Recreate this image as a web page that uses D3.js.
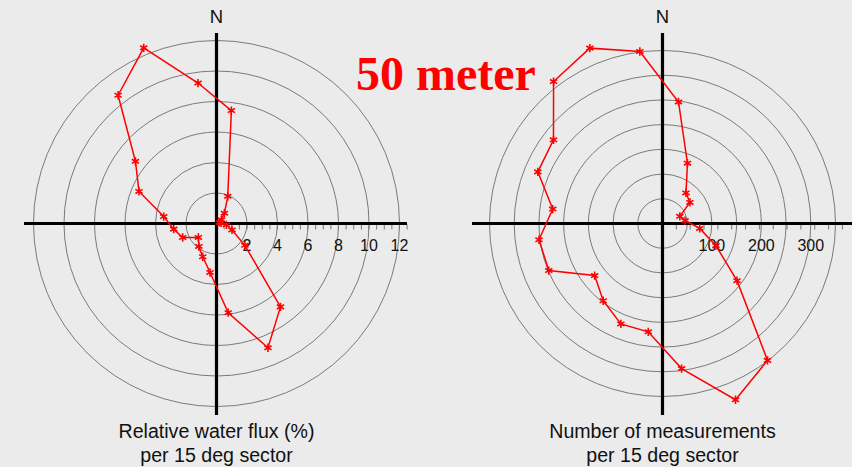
<!DOCTYPE html>
<html>
<head>
<meta charset="utf-8">
<script src="https://cdn.jsdelivr.net/npm/d3@7"></script>
<style>
  html, body { margin: 0; padding: 0; background: #ebebeb; }
  svg { display: block; }
</style>
</head>
<body>
<svg id="chart" width="852" height="467"></svg>
<script>
// Sector centre directions (degrees, clockwise from North)
const sectorAngles = [7.5, 22.5, 37.5, 52.5, 67.5, 82.5, 97.5, 112.5, 127.5, 142.5, 157.5, 172.5,
                      187.5, 202.5, 217.5, 232.5, 247.5, 262.5, 277.5, 292.5, 307.5, 322.5, 337.5, 352.5];
// Left panel: relative water flux (%) per sector
const fluxValues = [7.47, 1.93, 0.85, 0.4, 0.2, 0.3, 0.65, 1.1, 2.35, 6.89, 8.82, 5.9,
                    3.24, 2.36, 1.9, 1.5, 2.4, 2.83, 3.49, 5.5, 6.7, 10.6, 12.47, 9.29];
// Right panel: number of measurements per sector
const countValues = [248, 132, 78, 70, 38, 46, 76, 117, 190, 349, 386, 296,
                     221, 220, 197, 173, 249, 252, 224, 273, 278, 362, 384, 351];
// Rings and tick labels
const fluxRings = [2, 4, 6, 8, 10, 12];
const fluxTickLabels = ["2", "4", "6", "8", "10", "12"];
const countRings = [50, 100, 150, 200, 250, 300, 350];
const countTickLabels = ["100", "200", "300"];
const countTickLabelValues = [100, 200, 300];
const titleText = "50 meter";
const fluxCaption = ["Relative water flux (%)", "per 15 deg sector"];
const countCaption = ["Number of measurements", "per 15 deg sector"];

const svg = d3.select("#chart");
const rad = Math.PI / 180;

function panel(opts) {
  const g = svg.append("g").attr("transform", `translate(${opts.cx},${opts.cy})`);
  const r = d3.scaleLinear().domain([0, opts.maxVal]).range([0, opts.maxPx]);

  g.selectAll("circle.ring").data(opts.rings).join("circle")
    .attr("class", "ring")
    .attr("r", d => r(d))
    .attr("fill", "none")
    .attr("stroke", "#7a7a7a")
    .attr("stroke-width", 1);

  const ticks = d3.range(opts.tickStep, opts.tickEnd + 1e-9, opts.tickStep);
  g.selectAll("line.tick").data(ticks).join("line")
    .attr("x1", d => r(d)).attr("x2", d => r(d))
    .attr("y1", 1).attr("y2", 6)
    .attr("stroke", "#777").attr("stroke-width", 1);

  g.append("line").attr("x1", opts.xLeft - opts.cx).attr("x2", opts.xRight - opts.cx)
    .attr("y1", 0).attr("y2", 0).attr("stroke", "#000").attr("stroke-width", 3.2);
  g.append("line").attr("x1", 0).attr("x2", 0)
    .attr("y1", 33 - opts.cy).attr("y2", 415 - opts.cy)
    .attr("stroke", "#000").attr("stroke-width", 3.2);

  g.selectAll("text.tl").data(opts.labelVals).join("text")
    .attr("class", "tl")
    .attr("x", d => r(d)).attr("y", 27)
    .attr("text-anchor", "middle")
    .attr("font-family", "Liberation Sans, Arial, sans-serif")
    .attr("font-size", 16).attr("fill", "#111")
    .text((d, i) => opts.labels[i]);

  g.append("text").attr("x", 0).attr("y", 23 - opts.cy)
    .attr("text-anchor", "middle")
    .attr("font-family", "Liberation Sans, Arial, sans-serif")
    .attr("font-size", 18.5).attr("fill", "#111").text("N");

  const data = sectorAngles.map((a, i) => ({ a: a * rad, v: opts.values[i] }));
  const line = d3.lineRadial().angle(d => d.a).radius(d => r(d.v)).curve(d3.curveLinearClosed);
  g.append("path").attr("d", line(data))
    .attr("fill", "none").attr("stroke", "#ff0000").attr("stroke-width", 1.5);

  const sym = d3.symbol(d3.symbolAsterisk).size(48);
  g.selectAll("path.mk").data(data).join("path")
    .attr("class", "mk")
    .attr("d", sym)
    .attr("transform", d => {
      const [x, y] = d3.pointRadial(d.a, r(d.v));
      return `translate(${x},${y})`;
    })
    .attr("fill", "none").attr("stroke", "#ff0000").attr("stroke-width", 1.6);

  const cap = svg.append("text")
    .attr("text-anchor", "middle")
    .attr("font-family", "Liberation Sans, Arial, sans-serif")
    .attr("font-size", 19.6).attr("fill", "#111");
  opts.caption.forEach((t, i) => {
    cap.append("tspan").attr("x", opts.cx).attr("y", 438 + i * 24).text(t);
  });
}

panel({
  cx: 216.5, cy: 223.5, maxVal: 12, maxPx: 183,
  rings: fluxRings, values: fluxValues,
  tickStep: 0.5, tickEnd: 12.5,
  labelVals: fluxRings, labels: fluxTickLabels,
  xLeft: 24, xRight: 407, caption: fluxCaption
});

panel({
  cx: 662.5, cy: 223.5, maxVal: 350, maxPx: 173,
  rings: countRings, values: countValues,
  tickStep: 28, tickEnd: 380,
  labelVals: countTickLabelValues, labels: countTickLabels,
  xLeft: 472, xRight: 852, caption: countCaption
});

svg.append("text")
  .attr("x", 356).attr("y", 90)
  .attr("font-family", "Liberation Serif, Times New Roman, serif")
  .attr("font-weight", "bold")
  .attr("font-size", 48)
  .attr("fill", "#ff0000")
  .text(titleText);
</script>
</body>
</html>
